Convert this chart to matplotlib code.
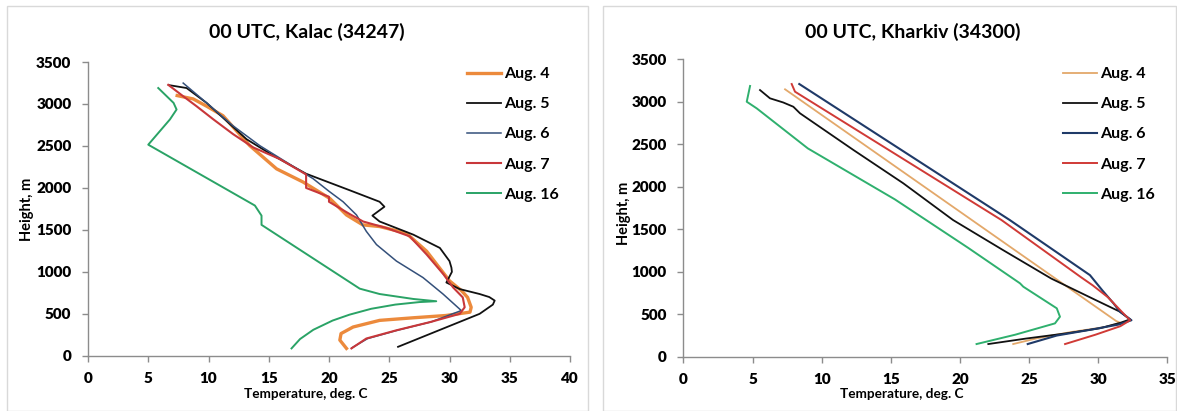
import matplotlib
matplotlib.use("Agg")
import matplotlib.pyplot as plt
from matplotlib.patches import Rectangle

plt.rcParams['font.family'] = ['Lato', 'DejaVu Sans']
plt.rcParams['font.weight'] = 'bold'

labels = ['Aug. 4', 'Aug. 5', 'Aug. 6', 'Aug. 7', 'Aug. 16']

# ---- Kalac (34247) ----
k4_t = [21.45, 20.9, 21.0, 22.0, 24.2, 27.0, 29.7, 31.7, 31.8, 31.5, 31.0, 30.0, 28.1, 26.4, 24.2, 22.8, 21.45, 20.07, 17.85, 15.65, 13.43, 11.2, 9.84, 8.73, 7.4]
k4_h = [88, 187, 265, 343, 422, 453, 480, 520, 578, 696, 775, 893, 1246, 1462, 1540, 1560, 1678, 1874, 2070, 2227, 2503, 2860, 2974, 3060, 3100]
k5_t = [25.73, 32.5, 33.6, 33.75, 33.3, 32.5, 30.85, 29.74, 30.2, 30.16, 30.0, 29.2, 27.0, 24.2, 23.6, 24.6, 24.2, 21.7, 18.1, 15.37, 13.16, 11.5, 9.84, 8.18, 6.7]
k5_h = [107, 500, 610, 658, 700, 736, 795, 873, 1000, 1050, 1128, 1285, 1443, 1600, 1670, 1776, 1835, 1973, 2169, 2385, 2580, 2797, 3013, 3190, 3225]
k6_t = [21.9, 23.2, 25.7, 28.5, 30.98, 29.46, 27.8, 25.6, 23.94, 23.1, 22.28, 21.17, 20.0, 18.68, 16.47, 14.26, 12.05, 9.84, 7.9]
k6_h = [95, 205, 305, 405, 539, 736, 932, 1128, 1325, 1482, 1678, 1835, 1960, 2110, 2306, 2503, 2738, 3013, 3249]
k7_t = [21.86, 23.1, 25.6, 28.4, 30.85, 31.26, 31.1, 30.3, 29.5, 28.1, 26.7, 24.8, 22.83, 21.7, 20.0, 20.0, 18.1, 18.1, 15.9, 13.7, 12.05, 10.4, 9.0, 7.9, 6.66]
k7_h = [88, 206, 304, 402, 500, 578, 696, 814, 971, 1207, 1423, 1521, 1600, 1690, 1835, 1894, 2000, 2160, 2345, 2483, 2640, 2817, 2974, 3092, 3228]
k16_t = [16.89, 17.6, 18.7, 20.3, 21.7, 23.5, 25.5, 27.5, 28.9, 27.0, 24.2, 22.55, 14.4, 14.4, 13.85, 5.0, 6.8, 7.35, 7.1, 5.83]
k16_h = [88, 200, 310, 420, 490, 560, 610, 640, 650, 677, 736, 800, 1560, 1670, 1790, 2515, 2816, 2934, 3013, 3190]

# ---- Kharkiv (34300) ----
h4_t = [23.85, 25.5, 28.0, 30.5, 31.6, 31.3, 7.35]
h4_h = [150, 215, 290, 350, 400, 420, 3145]
h5_t = [22.05, 24.8, 27.7, 30.1, 31.6, 32.3, 31.57, 29.8, 26.6, 23.1, 19.5, 15.9, 12.3, 8.43, 7.95, 7.22, 6.26, 5.54]
h5_h = [150, 215, 276, 335, 400, 440, 530, 668, 920, 1256, 1608, 2040, 2431, 2863, 2940, 2990, 3039, 3136]
h6_t = [24.9, 27.0, 29.5, 31.5, 32.4, 31.57, 31.1, 30.3, 29.4, 23.6, 8.38]
h6_h = [150, 250, 320, 380, 430, 530, 629, 780, 960, 1608, 3207]
h7_t = [27.6, 29.8, 31.6, 32.3, 31.7, 30.7, 29.6, 28.8, 23.0, 8.07, 7.83]
h7_h = [150, 260, 360, 430, 530, 700, 840, 930, 1608, 3117, 3207]
h16_t = [21.2, 24.0, 26.87, 27.23, 27.0, 24.58, 24.34, 20.6, 15.3, 9.0, 5.3, 4.58, 4.82]
h16_h = [150, 260, 393, 471, 570, 824, 864, 1280, 1850, 2450, 2921, 2999, 3184]

W, H = 1177, 411
fig = plt.figure(figsize=(W / 100, H / 100), dpi=100)

# panel frames
fig.patches.append(Rectangle((7 / W, 0), 581 / W, 405 / H, transform=fig.transFigure,
                             fill=False, edgecolor='#d9d9d9', lw=1))
fig.patches.append(Rectangle((603 / W, 0), 573 / W, 405 / H, transform=fig.transFigure,
                             fill=False, edgecolor='#d9d9d9', lw=1))

ax1 = fig.add_axes([88 / W, (H - 355.8) / H, 482 / W, 293.8 / H])
ax2 = fig.add_axes([683.4 / W, (H - 356.8) / H, 484 / W, 297.7 / H])

left_cols = ['#ec8a3c', '#111111', '#34507a', '#c8373a', '#2aa366']
left_lw = [2.4, 1.3, 1.1, 1.5, 1.4]
right_cols = ['#e3a86a', '#111111', '#1f3a68', '#d03a36', '#2fb06e']
right_lw = [1.3, 1.3, 1.5, 1.4, 1.4]

lt = [k4_t, k5_t, k6_t, k7_t, k16_t]
lh = [k4_h, k5_h, k6_h, k7_h, k16_h]
rt = [h4_t, h5_t, h6_t, h7_t, h16_t]
rh = [h4_h, h5_h, h6_h, h7_h, h16_h]

for i in range(5):
    ax1.plot(lt[i], lh[i], color=left_cols[i], lw=left_lw[i], label=labels[i],
             solid_joinstyle='round')
    ax2.plot(rt[i], rh[i], color=right_cols[i], lw=right_lw[i], label=labels[i],
             solid_joinstyle='round')

for ax, xmax in [(ax1, 40), (ax2, 35)]:
    ax.set_xlim(0, xmax)
    ax.set_ylim(0, 3500)
    ax.set_xticks(range(0, xmax + 1, 5))
    ax.set_yticks(range(0, 3501, 500))
    for s in ['top', 'right']:
        ax.spines[s].set_visible(False)
    for s in ['left', 'bottom']:
        ax.spines[s].set_color('#8c8c8c')
        ax.spines[s].set_linewidth(1)
    ax.tick_params(direction='out', length=4, width=1, color='#8c8c8c',
                   labelsize=11, pad=8)
    for lab in ax.get_xticklabels() + ax.get_yticklabels():
        lab.set_fontweight('heavy')

leg_kw = dict(loc='upper left', frameon=False, handlelength=2.1,
              handletextpad=0.2, labelspacing=1.0, borderpad=0, borderaxespad=0,
              bbox_transform=fig.transFigure, prop={'weight': 'bold', 'size': 11.5})
ax1.legend(bbox_to_anchor=(467 / W, 1 - 67 / H), **leg_kw)
ax2.legend(bbox_to_anchor=(1063 / W, 1 - 67 / H), **leg_kw)

fig.text(307 / W, 1 - 32 / H, '00 UTC, Kalac (34247)', ha='center', va='center',
         fontsize=14, fontweight='bold')
fig.text(913 / W, 1 - 32 / H, '00 UTC, Kharkiv (34300)', ha='center', va='center',
         fontsize=14, fontweight='bold')
fig.text(306 / W, 1 - 394 / H, 'Temperature, deg. C', ha='center', va='center',
         fontsize=9.8, fontweight='bold')
fig.text(902 / W, 1 - 394 / H, 'Temperature, deg. C', ha='center', va='center',
         fontsize=9.8, fontweight='bold')
fig.text(27 / W, 1 - 209 / H, 'Height, m', ha='center', va='center', rotation=90,
         fontsize=10.5, fontweight='bold')
fig.text(624 / W, 1 - 213 / H, 'Height, m', ha='center', va='center', rotation=90,
         fontsize=10.5, fontweight='bold')

fig.savefig('out.png', dpi=100)
